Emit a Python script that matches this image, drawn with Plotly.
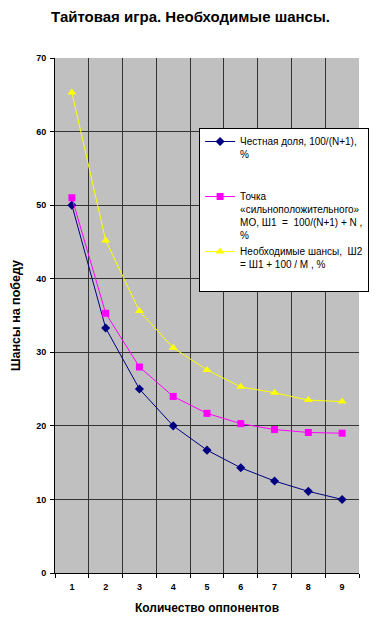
import plotly.graph_objects as go

opponents = [1, 2, 3, 4, 5, 6, 7, 8, 9]
fair_share = [50.0, 33.3, 25.0, 20.0, 16.7, 14.3, 12.5, 11.1, 10.0]
strong_ev = [51.0, 35.3, 28.0, 24.0, 21.7, 20.3, 19.5, 19.1, 19.0]
required = [65.3, 45.2, 35.6, 30.6, 27.6, 25.3, 24.5, 23.5, 23.3]
y_ticks = [0, 10, 20, 30, 40, 50, 60, 70]

names = [
    "Честная доля, 100/(N+1),<br>%<br> <br> ",
    "Точка<br>«сильноположительного»<br>МО, Ш1  =  100/(N+1) + N ,<br>%",
    "Необходимые шансы,  Ш2<br>= Ш1 + 100 / М , %<br>&nbsp;",
]

fig = go.Figure()
fig.add_trace(go.Scatter(x=opponents, y=fair_share, mode="lines+markers", name=names[0],
                         line=dict(color="#000080", width=1),
                         marker=dict(symbol="diamond", size=7, color="#000080")))
fig.add_trace(go.Scatter(x=opponents, y=strong_ev, mode="lines+markers", name=names[1],
                         line=dict(color="#FF00FF", width=1),
                         marker=dict(symbol="square", size=7, color="#FF00FF")))
fig.add_trace(go.Scatter(x=opponents, y=required, mode="lines+markers", name=names[2],
                         line=dict(color="#FFFF00", width=1),
                         marker=dict(symbol="triangle-up", size=8, color="#FFFF00")))

fig.update_layout(
    width=381, height=620,
    margin=dict(l=55, r=20, t=58, b=47),
    paper_bgcolor="white",
    plot_bgcolor="#C0C0C0",
    font=dict(family="Liberation Sans, Arial, sans-serif", color="black"),
    title=dict(text="<b>Тайтовая игра. Необходимые шансы.</b>", x=0.5, xanchor="center",
               y=0.973, yanchor="middle", font=dict(size=15)),
    xaxis=dict(range=[0.5, 9.5], tickvals=opponents, ticktext=[f"<b>{v}</b>" for v in opponents],
               showgrid=False, ticks="", tickfont=dict(size=9), zeroline=False,
               ticklabelstandoff=5, automargin=False,
               showline=True, linecolor="black", linewidth=1, mirror=False,
               minor=dict(tick0=0.5, dtick=1, showgrid=True, gridcolor="#333333", gridwidth=1,
                          ticks="outside", ticklen=4, tickcolor="black"),
               title=dict(text="<b>Количество оппонентов</b>", font=dict(size=12), standoff=12)),
    yaxis=dict(range=[0, 70], tickvals=y_ticks, ticktext=[f"<b>{v}</b>" for v in y_ticks],
               showgrid=True, gridcolor="#333333", automargin=False,
               gridwidth=1, ticks="outside", ticklen=4, tickcolor="black", zeroline=False,
               tickfont=dict(size=9), ticklabelstandoff=2,
               showline=True, linecolor="black", linewidth=1,
               title=dict(text="<b>Шансы на победу</b>", font=dict(size=12.5), standoff=12)),
    legend=dict(x=0.474, xanchor="left", y=0.865, yanchor="top", bgcolor="white",
                bordercolor="black", borderwidth=1, font=dict(size=10), valign="top",
                itemwidth=30, tracegroupgap=0),
    showlegend=True,
)

fig.write_html("out.html")
